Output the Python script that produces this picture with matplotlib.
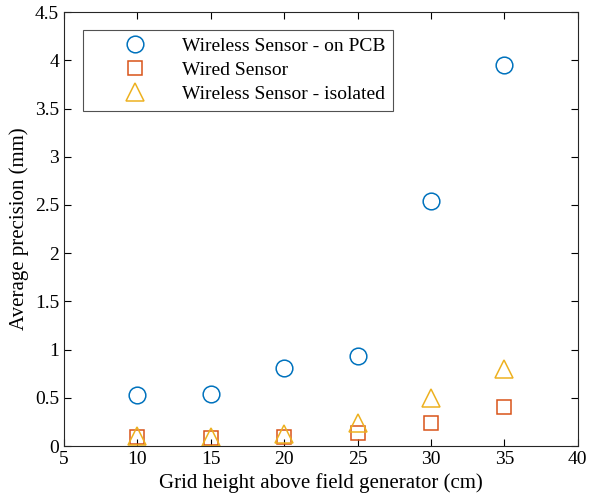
import matplotlib.pyplot as plt

heights = [10, 15, 20, 25, 30, 35]
wireless_pcb = [0.53, 0.54, 0.81, 0.93, 2.54, 3.95]
wired = [0.09, 0.08, 0.09, 0.14, 0.24, 0.41]
wireless_iso = [0.10, 0.09, 0.13, 0.24, 0.50, 0.80]

plt.rcParams['font.family'] = ['Liberation Serif', 'DejaVu Serif']

fig = plt.figure(figsize=(5.92, 5.04), dpi=100)
ax = fig.add_axes([0.108, 0.115, 0.868, 0.861])

ax.plot(heights, wireless_pcb, 'o', mfc='none', mec='#0072BD', ms=12, mew=1.1,
        label='Wireless Sensor - on PCB')
ax.plot(heights, wired, 's', mfc='none', mec='#D95319', ms=10, mew=1.1,
        label='Wired Sensor')
ax.plot(heights, wireless_iso, '^', mfc='none', mec='#EDB120', ms=13, mew=1.1,
        label='Wireless Sensor - isolated')

ax.set_xlim(5, 40)
ax.set_ylim(0, 4.5)
ax.set_xticks(range(5, 41, 5))
ax.set_yticks([0, 0.5, 1, 1.5, 2, 2.5, 3, 3.5, 4, 4.5])
ax.set_yticklabels(['0', '0.5', '1', '1.5', '2', '2.5', '3', '3.5', '4', '4.5'])
ax.tick_params(direction='in', top=True, right=True, labelsize=14, length=5)
for s in ax.spines.values():
    s.set_color('#262626')

ax.set_xlabel('Grid height above field generator (cm)', fontsize=15)
ax.set_ylabel('Average precision (mm)', fontsize=15)

# legend: marker sits well inside, text further right (MATLAB look)
leg = ax.legend(loc='upper left', fontsize=14, frameon=True, fancybox=False,
                edgecolor='#262626', handletextpad=0.1, handlelength=4.6,
                borderaxespad=0.9, labelspacing=0.33, borderpad=0.4,
                bbox_to_anchor=(0.003, 1.0))
leg.get_frame().set_linewidth(0.8)

fig.savefig('out.png', dpi=100)
